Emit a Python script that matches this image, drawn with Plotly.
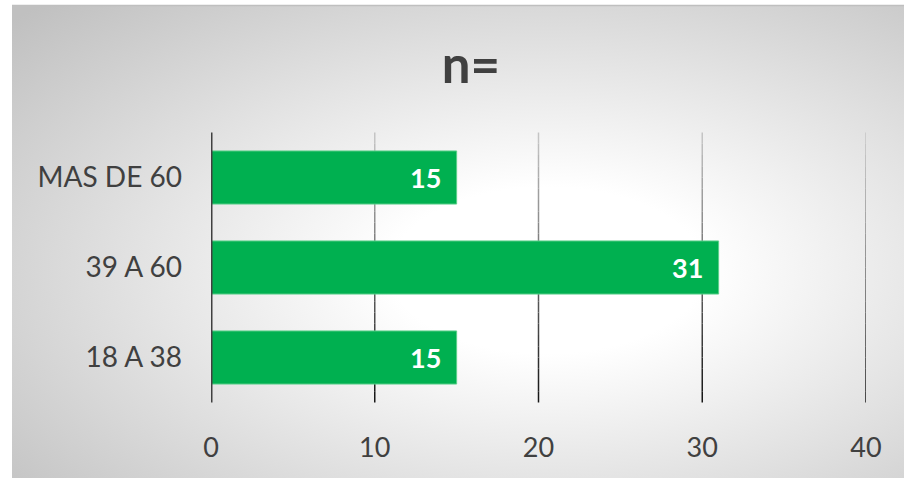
import plotly.graph_objects as go
import urllib.parse

categories = ["18 A 38", "39 A 60", "MAS DE 60"]
values = [15, 31, 15]
tick_vals = [0, 10, 20, 30, 40]
title_text = "n="

W, H = 904, 478
FONT = "Lato"
TXT = "#404040"
GREEN = "#00B050"

fig = go.Figure()

fig.add_trace(go.Bar(
    y=categories, x=values, orientation="h",
    marker=dict(color=GREEN, line=dict(color="#5ccf8a", width=1)),
    hoverinfo="skip",
))

# data labels inside end
for c, v in zip(categories, values):
    fig.add_annotation(x=v, y=c, xref="x", yref="y", text=f"<b>{v}</b>",
                       showarrow=False, xanchor="right", xshift=-14,
                       font=dict(family=FONT, size=27, color="white"))

PW = W - 211 - 38
PH = H - 131 - 74

# background radial gradient
svg = (
    '<svg xmlns="http://www.w3.org/2000/svg" width="900" height="480" preserveAspectRatio="none">'
    '<defs><radialGradient id="g" cx="0.6" cy="0.56" r="0.8">'
    '<stop offset="0" stop-color="#ffffff"/>'
    '<stop offset="0.22" stop-color="#ffffff"/>'
    '<stop offset="1" stop-color="#c0c0c0"/>'
    '</radialGradient></defs>'
    '<rect x="0" y="0" width="900" height="480" fill="url(#g)"/></svg>'
)
src = "data:image/svg+xml;charset=utf-8," + urllib.parse.quote(svg)
fig.add_layout_image(source=src, xref="paper", yref="paper",
                     x=-199 / PW, y=(H - 6 - 74) / PH,
                     sizex=(W - 12) / PW, sizey=(H - 6) / PH,
                     xanchor="left", yanchor="top", sizing="stretch", layer="below")

# gradient gridlines (light top -> dark bottom)
n_seg = 24
y0, y1 = -0.5, 2.5
def mix(a, b, t):
    return tuple(int(round(a[i] + (b[i] - a[i]) * t)) for i in range(3))
top_c, bot_c = (200, 200, 200), (20, 20, 20)
for tv in tick_vals[1:]:
    for k in range(n_seg):
        ya = y1 - (y1 - y0) * k / n_seg
        yb = y1 - (y1 - y0) * (k + 1) / n_seg
        col = mix(top_c, bot_c, (k + 0.5) / n_seg)
        fig.add_shape(type="line", xref="x", yref="y", x0=tv, x1=tv, y0=ya, y1=yb,
                      line=dict(color="rgb(%d,%d,%d)" % col, width=1.5), layer="below")
# zero axis line
fig.add_shape(type="line", xref="x", yref="y", x0=0, x1=0, y0=y0, y1=y1,
              line=dict(color="#404040", width=3), layer="above")

# top border of chart area
fig.add_shape(type="line", xref="paper", yref="paper",
              x0=-199 / PW, x1=1 + 38 / PW,
              y0=(H - 5.5 - 74) / PH, y1=(H - 5.5 - 74) / PH,
              line=dict(color="#bfbfbf", width=1.5))

fig.update_layout(
    width=W, height=H,
    margin=dict(l=211, r=38, t=131, b=74),
    paper_bgcolor="white", plot_bgcolor="rgba(0,0,0,0)",
    showlegend=False, bargap=0.41,
    title=dict(text=f"<b>{title_text}</b>", x=471 / W, xanchor="center",
               y=1 - 65 / H, yanchor="middle",
               font=dict(family=FONT, size=51, color=TXT)),
    xaxis=dict(range=[0, 40], tickvals=tick_vals, showgrid=False, zeroline=False,
               showline=False, ticks="", ticklabelstandoff=25,
               tickfont=dict(family=FONT, size=27, color=TXT), fixedrange=True),
    yaxis=dict(categoryorder="array", categoryarray=categories, showgrid=False,
               zeroline=False, showline=False, ticks="", ticklabelstandoff=28,
               tickfont=dict(family=FONT, size=28, color=TXT), fixedrange=True),
)

fig.write_html("out.html", config={"displayModeBar": False, "staticPlot": True})

# remove default browser body margin so the figure sits at the page origin
with open("out.html", "r", encoding="utf-8") as f:
    html = f.read()
html = html.replace("<body>", '<body style="margin:0;overflow:hidden">', 1)
with open("out.html", "w", encoding="utf-8") as f:
    f.write(html)
